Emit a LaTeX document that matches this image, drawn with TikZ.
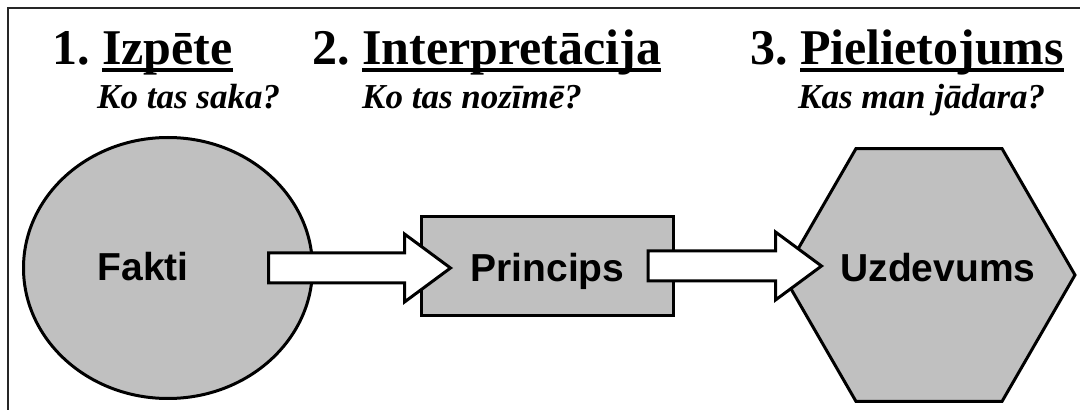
\documentclass[tikz,border=0pt]{standalone}
\usepackage{fontspec}
\setmainfont{Liberation Serif}
\setsansfont{Liberation Sans}
\usepackage{tikz}
\usetikzlibrary{shapes.geometric,positioning,calc}
\definecolor{boxgray}{HTML}{C0C0C0}
\frenchspacing
\newsavebox\ulbox
\newcommand{\ulword}[1]{\sbox\ulbox{#1}\rlap{\rule[-7.5pt]{\wd\ulbox}{4pt}}\usebox\ulbox}
\newcommand{\blockarrow}[2]{%
  \draw[bigarrow] let \p1=(#1), \p2=(#2) in
    (\x1,\y1+15pt) -- (\x2-46pt,\y1+15pt) -- (\x2-46pt,\y1+34pt) -- (\x2,\y1)
    -- (\x2-46pt,\y1-34pt) -- (\x2-46pt,\y1-15pt) -- (\x1,\y1-15pt) -- cycle;}

\begin{document}
\begin{tikzpicture}[x=1pt,y=1pt,
    headtext/.style={anchor=base west, inner sep=0, font=\fontsize{50}{60}\selectfont\bfseries},
    subtext/.style={anchor=base west, inner sep=0, font=\fontsize{35}{42}\selectfont\bfseries\itshape},
    shapebox/.style={draw=black, fill=boxgray, line width=3pt, inner sep=0, outer sep=0,
        text height=28pt, text depth=0pt,
        font=\fontsize{39}{47}\selectfont\sffamily\bfseries},
    bigarrow/.style={draw=black, fill=white, line width=3pt, line join=miter}]
    \useasboundingbox (0,0) rectangle (1080,410);
    % frame
    \draw[black!85, line width=2pt] (8,0) -- (8,402) -- (1080,402);

    % headings
    \node[headtext] (h1) at (52,345) {1. \ulword{Izpēte}};
    \node[headtext] (h2) at (312,345) {2. \ulword{Interpretācija}};
    \node[headtext] (h3) at (750,345) {3. \ulword{Pielietojums}};
    \node[subtext] (q1) at (97,301) {Ko tas saka?};
    \node[subtext] (q2) at (362,301) {Ko tas nozīmē?};
    \node[subtext] (q3) at (798,301) {Kas man jādara?};

    % shapes
    \node[shapebox, ellipse, minimum width=289, minimum height=261, text depth=3pt] (fakti) at (168,142) {Fakti\kern50pt};
    \node[shapebox, rectangle, minimum width=252, minimum height=99, text height=31pt] (princ) at (547.5,144) {Princips};
    \node[shapebox, regular polygon, regular polygon sides=6, minimum size=292,
        text depth=15pt] (uzd) at (929,135) {\makebox[0pt]{\kern18pt Uzdevums}};

    % arrows
    \blockarrow{$(fakti.east)+(-44,0)$}{$(princ.west)+(29,0)$}
    \blockarrow{$(princ.east)+(-25.5,0)$}{$(uzd.west)+(38.5,0)$}
\end{tikzpicture}
\end{document}
